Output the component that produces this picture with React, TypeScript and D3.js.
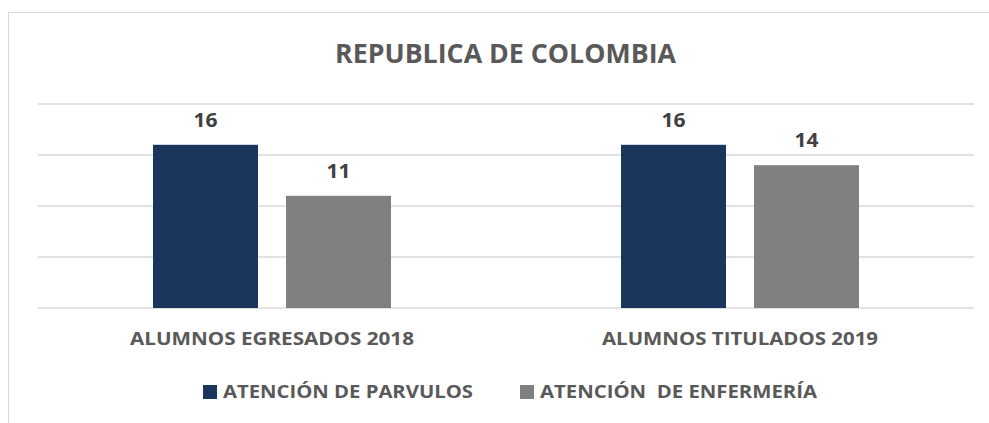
import React from "react";
import * as d3 from "d3";

const categories = ["ALUMNOS EGRESADOS 2018", "ALUMNOS TITULADOS 2019"];
const seriesNames = ["ATENCIÓN DE PARVULOS", "ATENCIÓN  DE ENFERMERÍA"];
const parvulos = [16, 16];
const enfermeria = [11, 14];
const yTicks = [0, 5, 10, 15, 20];
const title = "REPUBLICA DE COLOMBIA";

const W = 989;
const H = 423;
const colors = ["#1A365D", "#808080"];
const textColor = "#595959";
const font = "'Open Sans', Lato, sans-serif";

export default function App() {
  const margin = { left: 38, right: 15, top: 104, bottom: 115 };
  const x0 = d3
    .scaleBand<string>()
    .domain(categories)
    .range([margin.left, W - margin.right])
    .paddingInner(0)
    .paddingOuter(0);
  const y = d3.scaleLinear().domain([0, 20]).range([308, 104]);
  const barW = 105;
  const gap = 28;
  const series = [parvulos, enfermeria];
  const catWidths = [284, 276];
  const legendTextW = [250, 277];
  const legendX = [203, 520];

  return (
    <div style={{ position: "fixed", left: 0, top: 0 }}>
      <svg width={W} height={H} style={{ display: "block", background: "#fff" }}>
        <rect x={8.5} y={12.5} width={W} height={H} fill="#fff" stroke="#D9D9D9" strokeWidth={1} />
        <text
          x={505.5}
          y={63}
          textAnchor="middle"
          fontFamily={font}
          fontWeight={700}
          fontSize={27}
          fill={textColor}
          textLength={341}
          lengthAdjust="spacingAndGlyphs"
        >
          {title}
        </text>
        {yTicks.map((t) => (
          <line
            key={t}
            x1={margin.left}
            x2={W - margin.right}
            y1={y(t)}
            y2={y(t)}
            stroke="#D9D9D9"
            strokeWidth={1.6}
          />
        ))}
        {categories.map((c, ci) => {
          const cx = (x0(c) as number) + x0.bandwidth() / 2;
          const total = barW * 2 + gap;
          return (
            <g key={c}>
              {series.map((s, si) => {
                const bx = cx - total / 2 + si * (barW + gap);
                const v = s[ci];
                return (
                  <g key={si}>
                    <rect
                      x={bx}
                      y={y(v)}
                      width={barW}
                      height={y(0) - y(v)}
                      fill={colors[si]}
                    />
                    <text
                      x={bx + barW / 2}
                      y={y(v) - 18}
                      textAnchor="middle"
                      fontFamily={font}
                      fontWeight={700}
                      fontSize={19}
                      fill="#404040"
                      textLength={24}
                      lengthAdjust="spacingAndGlyphs"
                    >
                      {v}
                    </text>
                  </g>
                );
              })}
              <text
                x={cx}
                y={345}
                textAnchor="middle"
                fontFamily={font}
                fontWeight={700}
                fontSize={18}
                fill={textColor}
                textLength={catWidths[ci]}
                lengthAdjust="spacingAndGlyphs"
              >
                {c}
              </text>
            </g>
          );
        })}
        {seriesNames.map((n, i) => (
          <g key={n}>
            <rect x={legendX[i]} y={385} width={14} height={14} fill={colors[i]} />
            <text
              x={legendX[i] + 20}
              y={398}
              fontFamily={font}
              fontWeight={700}
              fontSize={18}
              fill={textColor}
              textLength={legendTextW[i]}
              lengthAdjust="spacingAndGlyphs"
              style={{ whiteSpace: "pre" }}
            >
              {n}
            </text>
          </g>
        ))}
      </svg>
    </div>
  );
}
